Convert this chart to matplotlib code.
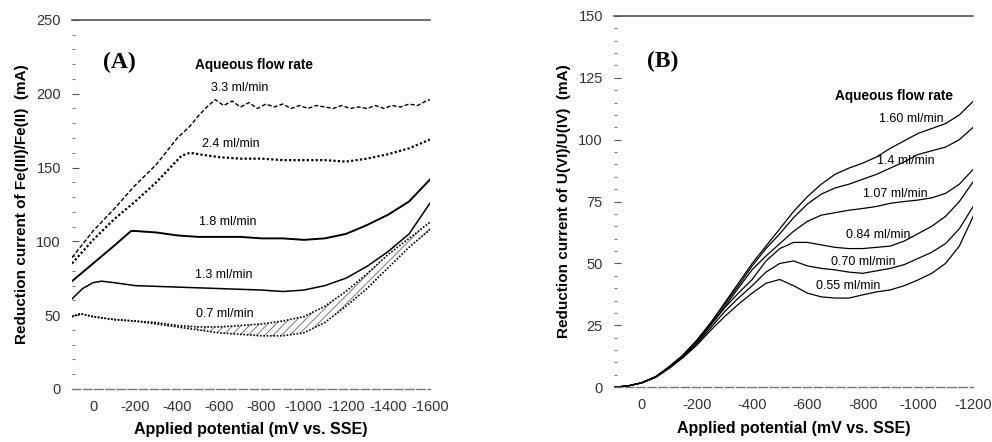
import matplotlib

matplotlib.use("Agg")
import matplotlib.pyplot as plt
from matplotlib.ticker import MultipleLocator

plt.rcParams["font.family"] = ["Liberation Sans", "DejaVu Sans"]
plt.rcParams["axes.unicode_minus"] = False
plt.rcParams["hatch.linewidth"] = 0.6

# ---- panel A: Fe(III)/Fe(II), potential in mV, current in mA ----
a_pot_33 = [100, 0, -100, -200, -300, -400, -460, -500, -540, -580, -620, -660, -700,
            -740, -780, -820, -860, -900, -940, -980, -1020, -1060, -1100, -1140,
            -1180, -1220, -1260, -1300, -1340, -1380, -1420, -1460, -1500, -1540, -1580, -1600]
a_cur_33 = [89, 107, 122, 138, 152, 170, 178, 185, 191, 196, 192, 195, 191, 194, 190,
            193, 191, 193, 190, 192, 190, 192, 191, 190, 192, 190, 191, 190, 192, 190,
            192, 191, 193, 192, 195, 196]

a_pot_24 = [100, 0, -100, -200, -300, -380, -420, -460, -500, -600, -700, -800, -900,
            -1000, -1100, -1200, -1300, -1400, -1500, -1600]
a_cur_24 = [85, 101, 115, 127, 140, 152, 158, 160, 159, 157, 156, 156, 155, 155, 155,
            154, 156, 159, 163, 169]

a_pot_18 = [100, 0, -100, -180, -200, -300, -400, -500, -600, -700, -800, -900, -1000,
            -1100, -1200, -1300, -1400, -1500, -1600]
a_cur_18 = [73, 85, 97, 107, 107, 106, 104, 103, 103, 103, 102, 102, 101, 102, 105,
            111, 118, 127, 142]

a_pot_13 = [100, 50, 0, -40, -100, -200, -400, -600, -800, -900, -1000, -1100, -1200,
            -1300, -1400, -1500, -1600]
a_cur_13 = [61, 68, 72, 73, 72, 70, 69, 68, 67, 66, 67, 70, 75, 83, 93, 105, 126]

a_pot_07 = [100, 60, 0, -100, -200, -300, -400, -500, -600, -700, -800, -900, -1000,
            -1100, -1200, -1300, -1400, -1500, -1600]
a_cur_07_hi = [49, 51, 49, 47, 46, 45, 43, 42, 42, 43, 44, 46, 49, 56, 66, 78, 91, 102, 113]
a_cur_07_lo = [49, 51, 49, 47, 46, 44, 42, 40, 38, 37, 36, 36, 38, 45, 56, 68, 82, 96, 108]

a_labels = ["3.3 ml/min", "2.4 ml/min", "1.8 ml/min", "1.3 ml/min", "0.7 ml/min"]
a_label_pot = [-695, -656, -640, -619, -627]
a_label_cur = [204, 166, 113, 77, 51]

# ---- panel B: U(VI)/U(IV) ----
b_pot = [100, 50, 0, -50, -100, -150, -200, -250, -300, -350, -400, -450, -500, -550,
         -600, -650, -700, -750, -800, -850, -900, -950, -1000, -1050, -1100, -1150, -1200]
b_cur_160 = [0, 0.5, 1.8, 4.2, 8.3, 13, 19, 26, 34, 42, 50, 57, 64, 71, 77, 82, 86,
             88.5, 90.5, 93, 96.5, 99.5, 102.5, 104.5, 106.5, 110, 115.5]
b_cur_140 = [0, 0.5, 1.8, 4.2, 8.3, 13, 19, 26, 33.5, 41, 49, 56, 62, 68.5, 74, 78,
             80.5, 82, 84, 86, 88.5, 91, 94, 95.5, 97, 100, 105]
b_cur_107 = [0, 0.5, 1.8, 4.2, 8.2, 12.8, 18.5, 25.5, 32.5, 40, 47.5, 53, 58, 63,
             67, 69.5, 70.5, 71.5, 72.2, 73, 74.3, 75, 75.6, 76.5, 78.3, 82, 88]
b_cur_084 = [0, 0.5, 1.8, 4.1, 8, 12.5, 18, 25, 32, 38, 43.5, 51, 56, 58.5, 58.5, 57.5,
             56.5, 56, 56, 56.5, 57, 59, 62, 65, 69, 75, 83]
b_cur_070 = [0, 0.5, 1.7, 4, 7.8, 12.2, 17.5, 24, 30.5, 36, 41, 46.5, 50, 51, 49, 48,
             47.4, 46.5, 46, 47, 48, 49.5, 52, 54.5, 58, 64, 73]
b_cur_055 = [0, 0.5, 1.7, 3.9, 7.6, 12, 17, 23, 28.5, 33.5, 38, 42, 43.5, 41, 38, 36.5,
             36, 36, 37.3, 38.5, 39.3, 41, 43.3, 46, 50, 57, 69]

b_labels = ["1.60 ml/min", "1.4 ml/min", "1.07 ml/min", "0.84 ml/min", "0.70 ml/min",
            "0.55 ml/min"]
b_label_pot = [-975, -957, -917, -858, -802, -746]
b_label_cur = [108.5, 91.3, 78, 61.5, 50.7, 41]


def style_axis(ax, xlim, xticks, ylim, ymajor, yminor, ylabel):
    ax.set_xlim(*xlim)
    ax.set_ylim(*ylim)
    ax.set_xticks(xticks)
    ax.yaxis.set_major_locator(MultipleLocator(ymajor))
    ax.yaxis.set_minor_locator(MultipleLocator(yminor))
    for side in ("left", "right"):
        ax.spines[side].set_visible(False)
    ax.spines["top"].set_color("#555555")
    ax.spines["top"].set_linewidth(1.2)
    ax.spines["bottom"].set_color("#777777")
    ax.spines["bottom"].set_linestyle((0, (6, 2)))
    ax.spines["bottom"].set_linewidth(1.0)
    ax.tick_params(axis="x", length=0, pad=8, labelsize=10.5, labelcolor="#333333")
    ax.tick_params(axis="y", which="major", direction="in", length=5, width=0.8,
                   color="#555555", pad=8, labelsize=10.5, labelcolor="#333333")
    ax.tick_params(axis="y", which="minor", direction="in", length=2.5, width=0.8,
                   color="#777777")
    ax.set_xlabel("Applied potential (mV vs. SSE)", fontsize=11.5, fontweight="bold",
                  labelpad=6)
    ax.set_ylabel(ylabel, fontsize=11, fontweight="bold", labelpad=5)


fig = plt.figure(figsize=(9.92, 4.42), dpi=100)
ax_a = fig.add_axes([0.0726, 0.120, 0.361, 0.835])
ax_b = fig.add_axes([0.619, 0.124, 0.362, 0.840])

# panel A curves
ax_a.plot(a_pot_33, a_cur_33, color="black", lw=1.0, ls=(0, (3, 1.5)))
ax_a.plot(a_pot_24, a_cur_24, color="black", lw=1.6, ls=(0, (1, 1)))
ax_a.plot(a_pot_18, a_cur_18, color="black", lw=1.4)
ax_a.plot(a_pot_13, a_cur_13, color="black", lw=1.1)
# the 0.7 ml/min trace is a noisy band in the original, drawn as a hatched envelope
ax_a.fill_between(a_pot_07, a_cur_07_lo, a_cur_07_hi, facecolor="none",
                  edgecolor="#666666", hatch="////", lw=0)
ax_a.plot(a_pot_07, a_cur_07_hi, color="black", lw=1.2, ls=(0, (1, 1)))
ax_a.plot(a_pot_07, a_cur_07_lo, color="black", lw=1.2, ls=(0, (1, 1)))
for text, x, y in zip(a_labels, a_label_pot, a_label_cur):
    ax_a.text(x, y, text, ha="center", va="center", fontsize=9)
ax_a.text(-762, 219.5, "Aqueous flow rate", ha="center", va="center", fontsize=9.8,
          fontweight="bold")
ax_a.text(-124, 221.5, "(A)", ha="center", va="center", fontsize=17, fontweight="bold",
          family="Liberation Serif")
style_axis(ax_a, (100, -1600), range(0, -1601, -200), (0, 250), 50, 10,
           "Reduction current of Fe(III)/Fe(II)  (mA)")

# panel B curves
for values in (b_cur_160, b_cur_140, b_cur_107, b_cur_084, b_cur_070, b_cur_055):
    ax_b.plot(b_pot, values, color="black", lw=0.9)
for text, x, y in zip(b_labels, b_label_pot, b_label_cur):
    ax_b.text(x, y, text, ha="center", va="center", fontsize=9)
ax_b.text(-914, 117.7, "Aqueous flow rate", ha="center", va="center", fontsize=9.8,
          fontweight="bold")
ax_b.text(-76, 131.4, "(B)", ha="center", va="center", fontsize=17, fontweight="bold",
          family="Liberation Serif")
style_axis(ax_b, (100, -1200), range(0, -1201, -200), (0, 150), 25, 5,
           "Reduction current of U(VI)/U(IV)  (mA)")

fig.savefig("out.png", dpi=100)
